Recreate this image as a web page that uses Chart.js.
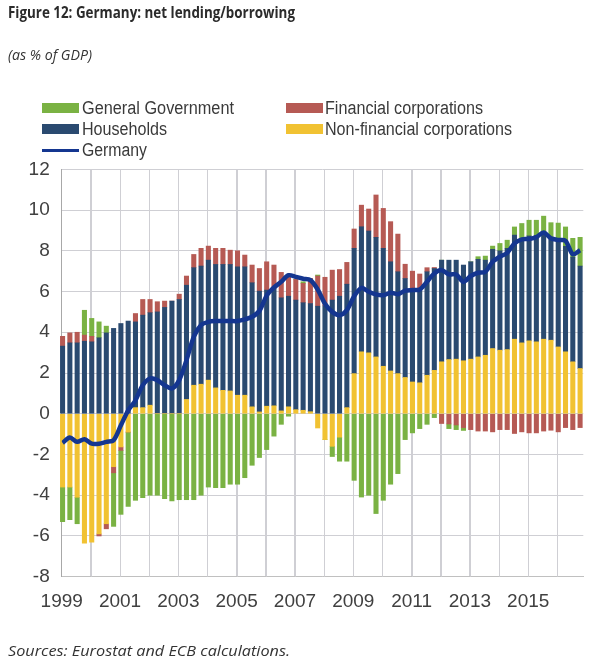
<!DOCTYPE html>
<html><head><meta charset="utf-8">
<script src="https://cdn.jsdelivr.net/npm/chart.js@4.4.1/dist/chart.umd.min.js"></script>
<style>
html,body{margin:0;padding:0;background:#fff;}
#wrap{position:relative;width:604px;height:672px;overflow:hidden;background:#fff;}
#c{position:absolute;left:0;top:0;}
.t{position:absolute;white-space:nowrap;transform-origin:0 0;color:#333;line-height:1;}
.title{font-family:"Open Sans",sans-serif;font-weight:700;font-size:16px;color:#2b2b2b;}
.sub{font-family:"Open Sans",sans-serif;font-style:italic;font-size:14px;color:#333;}
.lg{font-family:"Liberation Sans",Arial,sans-serif;font-size:18px;color:#3a3a3a;}
.sw{position:absolute;}
</style></head>
<body>
<div id="wrap">
<canvas id="c" width="604" height="672"></canvas>
<div class="t title fit" data-w="287" style="left:8px;top:4px;">Figure 12: Germany: net lending/borrowing</div>
<div class="t sub fit" data-w="84" style="left:8px;top:48px;">(as % of GDP)</div>
<div id="legend"></div>
<div class="t sub fit" data-w="282" style="left:8px;top:644px;">Sources: Eurostat and ECB calculations.</div>
</div>
<script>
// ---- data (quarterly, 1999Q1 - 2016Q4), % of GDP ----
const startYear = 1999;
const quarters = [];
for (let y = 1999; y <= 2016; y++) for (let q = 1; q <= 4; q++) quarters.push(y + 'Q' + q);
const yearLabels = ['1999','2001','2003','2005','2007','2009','2011','2013','2015'];
const yTicks = [-8,-6,-4,-2,0,2,4,6,8,10,12];

const nonFinancial = [-3.6,-3.6,-4.1,-6.35,-6.3,-5.9,-5.4,-2.6,-1.63,-0.9,
  0.3,0.3,0.42,0,0,0,0,0.7,1.4,1.45,
  1.65,1.27,1.15,1.12,0.91,0.91,0.34,0.09,0.37,0.39,
  0.14,0.34,0.2,0.17,0.1,-0.7,-1.27,-1.6,-1.15,0.3,
  1.97,3.04,2.99,2.79,2.33,2.1,1.97,1.78,1.56,1.52,
  1.89,2.13,2.55,2.66,2.68,2.6,2.68,2.79,2.87,3.2,
  3.12,3.15,3.66,3.48,3.58,3.53,3.66,3.61,3.28,3.04,2.55,2.22];
const households = [3.32,3.48,3.48,3.56,3.53,3.73,3.97,4.19,4.43,4.55,
  4.21,4.54,4.54,5.0,5.22,5.53,5.61,5.61,5.77,5.8,
  5.89,6.06,6.18,6.21,6.3,6.3,6.09,5.93,5.7,5.76,
  5.55,5.43,5.38,5.28,5.31,5.28,5.3,5.58,5.77,6.06,
  6.15,6.14,5.98,5.87,5.79,5.36,5.0,4.86,4.51,4.63,
  5.08,5.0,4.99,4.88,4.86,4.7,4.78,4.79,4.67,4.87,
  4.88,4.97,5.11,5.12,5.15,5.22,5.19,5.0,5.17,5.18,5.14,5.03];
const financial = [0.48,0.49,0.52,0.3,0.27,-0.1,-0.25,-0.3,-0.17,0,
  0.41,0.77,0.65,0.5,0.31,0,0.26,0.45,0.65,0.87,
  0.69,0.79,0.79,0.7,0.79,0.58,0.87,1.11,1.39,1.15,
  1.25,0.99,1.01,0.95,1.23,1.48,1.4,1.47,1.31,1.07,
  0.95,1.06,1.08,2.08,1.96,1.97,1.85,0.7,0.93,0.71,
  0.2,0.05,-0.48,-0.5,-0.55,-0.68,-0.78,-0.85,-0.85,-0.89,
  -0.78,-0.78,-0.97,-0.89,-0.94,-0.94,-0.85,-0.81,-0.89,-0.68,-0.78,-0.68];
const government = [-1.7,-1.6,-1.3,1.22,0.88,0.78,0.33,-2.63,-3.14,-3.65,
  -4.25,-4.12,-4.0,-4.0,-4.17,-4.28,-4.22,-4.22,-4.22,-4.0,
  -3.6,-3.63,-3.63,-3.46,-3.46,-3.14,-2.53,-2.15,-1.76,-1.1,
  -0.52,-0.12,0,0.08,0,0.05,0,-0.5,-1.18,-2.33,
  -3.27,-4.09,-4.0,-4.9,-4.25,-3.46,-2.94,-1.27,-0.94,-0.73,
  -0.52,-0.19,0,-0.23,-0.23,-0.14,0,0.13,0.2,0.16,
  0.36,0.4,0.4,0.74,0.77,0.75,0.85,0.77,0.91,0.95,0.92,1.41];
const germany = [-1.43,-1.17,-1.38,-1.25,-1.47,-1.47,-1.38,-1.3,-0.57,0.17,
  0.66,1.4,1.73,1.65,1.4,1.24,1.65,2.63,3.78,4.35,
  4.51,4.55,4.55,4.55,4.55,4.63,4.76,5.05,5.8,6.2,
  6.48,6.8,6.72,6.63,6.56,6.1,5.4,5.0,4.84,5.09,
  5.77,6.18,5.99,5.86,5.82,5.94,5.87,6.04,6.07,6.1,
  6.48,6.89,7.05,6.84,6.84,6.48,6.76,6.92,6.97,7.46,
  7.71,7.9,8.36,8.56,8.58,8.67,8.9,8.61,8.53,8.49,7.83,8.03];

const C = {
  gov:'#7ab243', hh:'#2a4a70', fin:'#b65a54', nfc:'#f1c232', line:'#143690', grid:'#cfcfd4'
};

// x position of each quarter on a year-based linear axis
const xPos = quarters.map(q => parseInt(q) + (parseInt(q.slice(5)) - 1) / 4 + 0.03);
const pts = arr => arr.map((v, i) => ({x: xPos[i], y: v}));

// ---- legend (HTML) ----
const legendItems = [
  {label:'General Government', color:C.gov, kind:'box', left:42, top:103, tx:82, w:152},
  {label:'Financial corporations', color:C.fin, kind:'box', left:286, top:103, tx:325, w:158},
  {label:'Households', color:C.hh, kind:'box', left:42, top:124, tx:82, w:85},
  {label:'Non-financial corporations', color:C.nfc, kind:'box', left:286, top:124, tx:325, w:187},
  {label:'Germany', color:C.line, kind:'line', left:42, top:145, tx:82, w:65}
];
const lg = document.getElementById('legend');
legendItems.forEach(it => {
  const s = document.createElement('div');
  s.className = 'sw';
  if (it.kind === 'box') {
    s.style.cssText = `left:${it.left}px;top:${it.top}px;width:37px;height:10px;background:${it.color}`;
  } else {
    s.style.cssText = `left:${it.left}px;top:${it.top + 4}px;width:37px;height:3px;background:${it.color}`;
  }
  lg.appendChild(s);
  const t = document.createElement('div');
  t.className = 't lg fit';
  t.dataset.w = it.w;
  t.style.left = it.tx + 'px';
  t.style.top = (it.top - 4) + 'px';
  t.textContent = it.label;
  lg.appendChild(t);
});
document.querySelectorAll('.fit').forEach(el => {
  const w = el.getBoundingClientRect().width;
  const target = parseFloat(el.dataset.w);
  if (w > 0) el.style.transform = `scaleX(${target / w})`;
});

// vertical year grid lines, placed by the x scale's own ticks
const yearGrid = {
  id:'yearGrid',
  beforeDatasetsDraw(chart) {
    const {ctx, chartArea:a, scales:{x}} = chart;
    ctx.save();
    ctx.strokeStyle = C.grid;
    ctx.lineWidth = 1;
    x.ticks.forEach(t => {
      const px = Math.round(x.getPixelForValue(t.value)) + 0.5;
      if (px <= a.left + 1 || px > a.right) return;
      ctx.beginPath();
      ctx.moveTo(px, a.top);
      ctx.lineTo(px, a.bottom);
      ctx.stroke();
    });
    ctx.restore();
  }
};

// ---- chart ----
const barCommon = {type:'bar', stack:'s', order:1, barThickness:4.4, borderWidth:0, clip:false};
new Chart(document.getElementById('c'), {
  data: {
    datasets: [
      {type:'line', label:'Germany', data:pts(germany), stack:'line', order:0,
       borderColor:C.line, borderWidth:4.5, pointRadius:0, tension:0.3, fill:false},
      Object.assign({label:'Non-financial corporations', data:pts(nonFinancial), backgroundColor:C.nfc}, barCommon),
      Object.assign({label:'Households', data:pts(households), backgroundColor:C.hh}, barCommon),
      Object.assign({label:'Financial corporations', data:pts(financial), backgroundColor:C.fin}, barCommon),
      Object.assign({label:'General Government', data:pts(government), backgroundColor:C.gov}, barCommon)
    ]
  },
  plugins:[yearGrid],
  options: {
    responsive:false, animation:false, maintainAspectRatio:false,
    layout:{padding:{left:11.7, top:169.3, right:20.7, bottom:55.3}},
    plugins:{legend:{display:false}, tooltip:{enabled:false}},
    scales:{
      x:{type:'linear', stacked:true, offset:false, min:startYear, max:2016.89,
        grid:{display:true, drawOnChartArea:true, color:C.grid, drawTicks:false, lineWidth:1, offset:false},
        border:{display:true, color:'#c0c0c0'},
        ticks:{stepSize:1, includeBounds:false, autoSkip:false, maxRotation:0, padding:14,
          color:'#404040', font:{family:'"Liberation Sans", Arial, sans-serif', size:19},
          callback:v => yearLabels.includes(String(v)) ? String(v) : ' '},
        afterFit:s => { s.height = 40; }
      },
      y:{stacked:true, min:yTicks[0], max:yTicks[yTicks.length-1],
        grid:{color:C.grid, drawTicks:false},
        border:{color:'#a8a8a8'},
        ticks:{stepSize:2, padding:12, color:'#404040',
          font:{family:'"Liberation Sans", Arial, sans-serif', size:19}},
        afterFit:s => { s.width = 50; }
      }
    }
  }
});
</script>
</body></html>
